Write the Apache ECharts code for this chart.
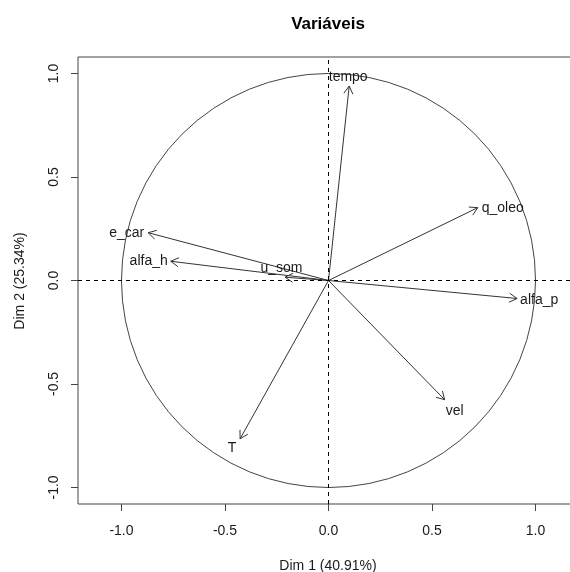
<!DOCTYPE html>
<html>
<head>
<meta charset="utf-8">
<script src="https://cdn.jsdelivr.net/npm/echarts@6/dist/echarts.min.js"></script>
<style>html,body{margin:0;padding:0;background:#fff}#c{width:570px;height:572px}</style>
</head>
<body>
<div id="c"></div>
<script>
// Variable names and their coordinates on Dim 1 / Dim 2
const varNames = ['tempo', 'q_oleo', 'alfa_p', 'e_car', 'alfa_h', 'u_som', 'T', 'vel'];
const dim1 = [0.100, 0.721, 0.911, -0.871, -0.762, -0.210, -0.427, 0.561];
const dim2 = [0.940, 0.352, -0.087, 0.231, 0.093, 0.016, -0.765, -0.576];
const tickValues = [-1.0, -0.5, 0.0, 0.5, 1.0];
const chartTitle = 'Variáveis';
const xTitle = 'Dim 1 (40.91%)';
const yTitle = 'Dim 2 (25.34%)';

// Label placement (style only): [dx, dy, align]
const labelPlace = [
  [-1, -9, 'center'],
  [4, 0, 'left'],
  [3, 2, 'left'],
  [-4, 0, 'right'],
  [-3, 0, 'right'],
  [-3.5, -9.5, 'center'],
  [-8, 9, 'center'],
  [10, 11, 'center']
];

const FONT = 'Liberation Sans, Arial, sans-serif';
const chart = echarts.init(document.getElementById('c'), null, {renderer: 'canvas'});

const arrowData = varNames.map((n, i) => [dim1[i], dim2[i], i]);

function renderArrow(params, api) {
  const x = api.value(0), y = api.value(1), idx = api.value(2);
  const o = api.coord([0, 0]);
  const p = api.coord([x, y]);
  const ang = Math.atan2(p[1] - o[1], p[0] - o[0]);
  const L = 9, a = Math.PI / 6;
  const h1 = [p[0] - L * Math.cos(ang - a), p[1] - L * Math.sin(ang - a)];
  const h2 = [p[0] - L * Math.cos(ang + a), p[1] - L * Math.sin(ang + a)];
  const lp = labelPlace[idx];
  return {
    type: 'group',
    children: [
      {type: 'line', shape: {x1: o[0], y1: o[1], x2: p[0], y2: p[1]},
       style: {stroke: '#333', lineWidth: 1}},
      {type: 'polyline', shape: {points: [h1, p, h2]},
       style: {stroke: '#333', lineWidth: 1, fill: null}},
      {type: 'text', x: p[0] + lp[0], y: p[1] + lp[1],
       style: {text: varNames[idx], fill: '#1a1a1a', font: '14px ' + FONT,
               textAlign: lp[2], textVerticalAlign: 'middle'}}
    ]
  };
}

function renderCircle(params, api) {
  const c = api.coord([api.value(0), api.value(1)]);
  const s = api.size([1, 1]);
  return {type: 'circle', shape: {cx: c[0], cy: c[1], r: s[0]},
          style: {stroke: '#444', lineWidth: 1, fill: null}};
}

const option = {
  animation: false,
  backgroundColor: '#fff',
  grid: {left: 78, top: 57, width: 501, height: 447, show: true,
         outerBoundsMode: 'none', containLabel: false,
         borderColor: '#444', borderWidth: 1, backgroundColor: 'transparent'},
  xAxis: {
    type: 'value', min: -1.21, max: 1.21,
    axisLine: {show: false, onZero: false},
    splitLine: {show: false},
    axisTick: {show: true, inside: false, length: 7, customValues: tickValues,
               lineStyle: {color: '#444'}},
    axisLabel: {show: true, customValues: tickValues, margin: 20,
                color: '#1a1a1a', fontSize: 14, fontFamily: FONT,
                formatter: v => v.toFixed(1)}
  },
  yAxis: {
    type: 'value', min: -1.08, max: 1.08,
    axisLine: {show: false, onZero: false},
    splitLine: {show: false},
    axisTick: {show: true, inside: false, length: 7, customValues: tickValues,
               lineStyle: {color: '#444'}},
    axisLabel: {show: true, customValues: tickValues, margin: 17, rotate: 90,
                color: '#1a1a1a', fontSize: 14, fontFamily: FONT,
                formatter: v => v.toFixed(1)}
  },
  graphic: [
    {type: 'text', x: 328, y: 24, style: {text: chartTitle, font: 'bold 17px ' + FONT,
      fill: '#000', textAlign: 'center', textVerticalAlign: 'middle'}},
    {type: 'text', x: 328, y: 566, style: {text: xTitle, font: '14px ' + FONT,
      fill: '#1a1a1a', textAlign: 'center', textVerticalAlign: 'middle'}},
    {type: 'text', x: 20, y: 281, rotation: Math.PI / 2, style: {text: yTitle, font: '14px ' + FONT,
      fill: '#1a1a1a', textAlign: 'center', textVerticalAlign: 'middle'}}
  ],
  series: [
    {type: 'custom', renderItem: renderCircle, data: [[0, 0]], silent: true,
     markLine: {silent: true, symbol: ['none', 'none'], label: {show: false},
       lineStyle: {color: '#000', width: 1, type: [4, 4]},
       data: [{xAxis: 0}, {yAxis: 0}]}},
    {type: 'custom', renderItem: renderArrow, data: arrowData, silent: true}
  ]
};
chart.setOption(option);
</script>
</body>
</html>
